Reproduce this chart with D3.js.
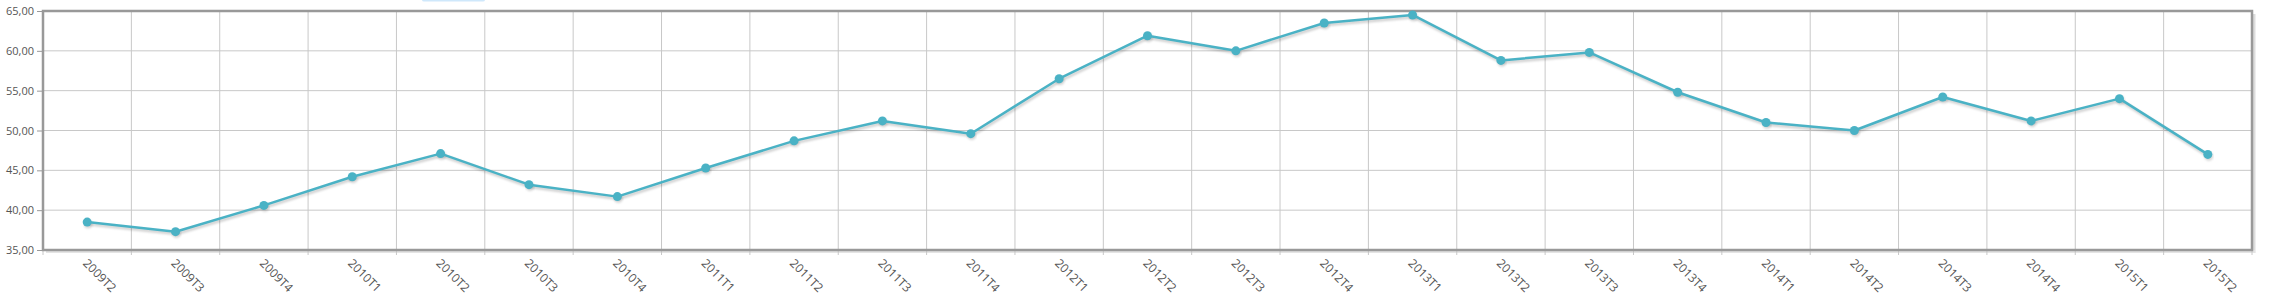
<!DOCTYPE html>
<html>
<head>
<meta charset="utf-8">
<script src="https://cdn.jsdelivr.net/npm/d3@7"></script>
<style>
  html, body { margin: 0; padding: 0; background: #fff; }
  svg { display: block; }
  text { font-family: "Open Sans", "DejaVu Sans", sans-serif; fill: #555; }
</style>
</head>
<body>
<div id="chart"></div>
<script>
const categories = ["2009T2","2009T3","2009T4","2010T1","2010T2","2010T3","2010T4","2011T1","2011T2","2011T3","2011T4","2012T1","2012T2","2012T3","2012T4","2013T1","2013T2","2013T3","2013T4","2014T1","2014T2","2014T3","2014T4","2015T1","2015T2"];
const values = [38.5,37.3,40.6,44.2,47.1,43.2,41.7,45.3,48.7,51.2,49.6,56.5,61.9,60.0,63.5,64.5,58.8,59.8,54.8,51.0,50.0,54.2,51.2,54.0,47.0];
const yTicks = [35,40,45,50,55,60,65];

(function () {
const W = 2276, H = 306;
const pL = 43, pR = 2252, pT = 11, pB = 250;

const svg = d3.select("#chart").append("svg").attr("width", W).attr("height", H);

const defs = svg.append("defs");
const f = defs.append("filter").attr("id","blur").attr("x","-5%").attr("y","-50%").attr("width","110%").attr("height","200%");
f.append("feGaussianBlur").attr("stdDeviation", 1);

const x = d3.scaleBand().domain(categories).range([pL, pR]);
const y = d3.scaleLinear().domain([35, 65]).range([pB, pT]);

// legend fragment at top
svg.append("rect").attr("x", 422).attr("y", -2).attr("width", 63).attr("height", 3.5).attr("rx", 2).attr("fill", "#cfe8fb");

// frame shadow
svg.append("rect").attr("x", pR).attr("y", pT + 3).attr("width", 3.5).attr("height", pB - pT).attr("fill", "#ddd");
svg.append("rect").attr("x", pL + 3).attr("y", pB).attr("width", pR - pL).attr("height", 3).attr("fill", "#e4e4e4");

// grid
const grid = svg.append("g");
grid.selectAll("line.h").data(yTicks).join("line")
  .attr("x1", pL).attr("x2", pR)
  .attr("y1", d => y(d)).attr("y2", d => y(d))
  .attr("stroke", "#c8c8c8").attr("stroke-width", 1);
const bounds = categories.slice(1).map(c => x(c));
grid.selectAll("line.v").data(bounds).join("line")
  .attr("x1", d => d).attr("x2", d => d)
  .attr("y1", pT).attr("y2", pB)
  .attr("stroke", "#c8c8c8").attr("stroke-width", 1);

// x tick marks
svg.append("g").selectAll("line").data(categories.map(c => x(c)).concat([pR])).join("line")
  .attr("x1", d => d).attr("x2", d => d)
  .attr("y1", pB).attr("y2", pB + 5)
  .attr("stroke", "#c8c8c8").attr("stroke-width", 1);

// y axis ticks & labels
const yAxis = d3.axisLeft(y).tickValues(yTicks).tickSize(6).tickPadding(3)
  .tickFormat(d => d3.format(".2f")(d).replace(".", ","));
const ya = svg.append("g").attr("transform", `translate(${pL},0)`).call(yAxis);
ya.select(".domain").remove();
ya.selectAll("line").attr("stroke", "#999");
ya.selectAll("text").attr("font-size", 11).attr("fill", "#555").style("font-family", "'Open Sans', sans-serif");

// frame
svg.append("rect").attr("x", pL).attr("y", pT).attr("width", pR - pL).attr("height", pB - pT)
  .attr("fill", "none").attr("stroke", "#999").attr("stroke-width", 2.5);

// x labels
svg.append("g").selectAll("text").data(categories).join("text")
  .attr("transform", d => `translate(${x(d) + x.bandwidth()/2 - 5},${pB + 14}) rotate(45)`)
  .attr("font-size", 12).attr("fill", "#555")
  .text(d => d);

// line shadow
const line = d3.line().x((d, i) => x(categories[i]) + x.bandwidth()/2).y(d => y(d));
svg.append("path").datum(values).attr("d", line)
  .attr("transform", "translate(1,2)")
  .attr("fill", "none").attr("stroke", "#000").attr("stroke-opacity", 0.18).attr("stroke-width", 3)
  .attr("filter", "url(#blur)");
svg.append("g").attr("transform", "translate(1,2)").selectAll("circle").data(values).join("circle")
  .attr("cx", (d, i) => x(categories[i]) + x.bandwidth()/2).attr("cy", d => y(d)).attr("r", 4.5)
  .attr("fill", "#000").attr("fill-opacity", 0.15).attr("filter", "url(#blur)");

// line
svg.append("path").datum(values).attr("d", line)
  .attr("fill", "none").attr("stroke", "#4ab2c5").attr("stroke-width", 2.5).attr("stroke-linejoin", "round");
svg.append("g").selectAll("circle").data(values).join("circle")
  .attr("cx", (d, i) => x(categories[i]) + x.bandwidth()/2).attr("cy", d => y(d)).attr("r", 4.5)
  .attr("fill", "#4ab2c5");
})();
</script>
</body>
</html>
